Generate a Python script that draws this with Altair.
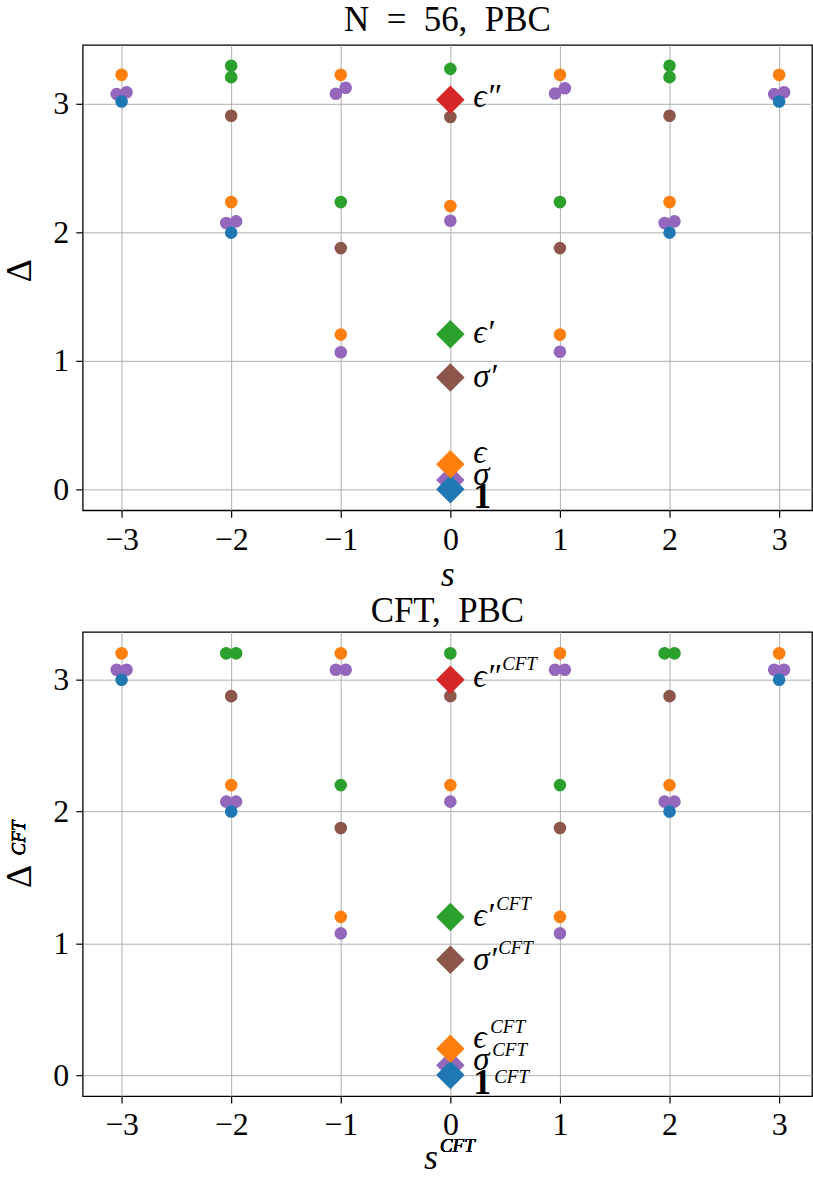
import altair as alt
import pandas as pd

SERIF = "Liberation Serif"

FAMILIES = ["1", "σ", "ϵ", "σ′", "ϵ′", "ϵ″"]
COLORS = ["#1f77b4", "#9467bd", "#ff7f0e", "#8c564b", "#2ca02c", "#d62728"]
DRAW_ORDER = ["σ", "1", "ϵ", "σ′", "ϵ′", "ϵ″"]

X_TICKS = [-3, -2, -1, 0, 1, 2, 3]
Y_TICKS = [0, 1, 2, 3]

TITLE_TOP = "N\u2002=\u200256,\u2002PBC"
TITLE_BOTTOM = "CFT,\u2002PBC"

# ---------------- N = 56 lattice spectrum ----------------
n56_one_s = [-3, -2, 2, 3]
n56_one_d = [3.018, 1.997, 1.997, 3.018]
n56_sig_s = [-3.045, -2.955, -2.045, -1.955, -1.045, -0.955, -1, 0, 1, 0.955, 1.045, 1.955, 2.045, 2.955, 3.045]
n56_sig_d = [3.075, 3.090, 2.072, 2.085, 3.078, 3.124, 1.067, 2.090, 1.070, 3.080, 3.121, 2.072, 2.085, 3.075, 3.090]
n56_eps_s = [-3, -2, -1, -1, 0, 1, 1, 2, 3]
n56_eps_d = [3.225, 2.235, 3.225, 1.204, 2.204, 3.225, 1.204, 2.235, 3.225]
n56_sigp_s = [-2, -1, 0, 1, 2]
n56_sigp_d = [2.907, 1.877, 2.897, 1.877, 2.907]
n56_epsp_s = [-2, -2, -1, 0, 1, 2, 2]
n56_epsp_d = [3.295, 3.207, 2.235, 3.271, 2.235, 3.295, 3.207]
n56_epspp_s = []
n56_epspp_d = []
n56_primary_d = [0.0, 0.072, 0.196, 0.871, 1.207, 3.031]

# ---------------- CFT spectrum ----------------
cft_one_s = [-3, -2, 2, 3]
cft_one_d = [3.0, 2.0, 2.0, 3.0]
cft_sig_s = [-3.045, -2.955, -2.045, -1.955, -1.045, -0.955, -1, 0, 1, 0.955, 1.045, 1.955, 2.045, 2.955, 3.045]
cft_sig_d = [3.075, 3.075, 2.075, 2.075, 3.075, 3.075, 1.075, 2.075, 1.075, 3.075, 3.075, 2.075, 2.075, 3.075, 3.075]
cft_eps_s = [-3, -2, -1, -1, 0, 1, 1, 2, 3]
cft_eps_d = [3.2, 2.2, 3.2, 1.2, 2.2, 3.2, 1.2, 2.2, 3.2]
cft_sigp_s = [-2, -1, 0, 1, 2]
cft_sigp_d = [2.875, 1.875, 2.875, 1.875, 2.875]
cft_epsp_s = [-2.045, -1.955, -1, 0, 1, 1.955, 2.045]
cft_epsp_d = [3.2, 3.2, 2.2, 3.2, 2.2, 3.2, 3.2]
cft_epspp_s = []
cft_epspp_d = []
cft_primary_d = [0.0, 0.075, 0.2, 0.875, 1.2, 3.0]

# label styling (offsets in px relative to the diamond)
LABEL_DY = {"1": 8, "σ": -5, "ϵ": -11, "σ′": 0, "ϵ′": -1, "ϵ″": -3}
SUP_DX = {"1": 44, "σ": 42, "ϵ": 40, "σ′": 48, "ϵ′": 46, "ϵ″": 52}
SUP_DY = {"1": 2, "σ": -15, "ϵ": -22, "σ′": -12, "ϵ′": -13, "ϵ″": -16}


def circles_frame(groups):
    rows = []
    for fam, ss, dd in groups:
        for s, d in zip(ss, dd):
            rows.append({"s": s, "delta": d, "family": fam, "z": DRAW_ORDER.index(fam)})
    return pd.DataFrame(rows)


def primary_frame(deltas):
    return pd.DataFrame({
        "s": [0] * len(FAMILIES),
        "delta": deltas,
        "family": FAMILIES,
        "z": [DRAW_ORDER.index(f) for f in FAMILIES],
    })


def panel(circ, prim, title, ydom, width, height, cft, ytitle_y, title_offset):
    xs = alt.Scale(domain=[-3.355, 3.3], nice=False, zero=False)
    ys = alt.Scale(domain=ydom, nice=False, zero=False)
    col = alt.Color("family:N", scale=alt.Scale(domain=FAMILIES, range=COLORS), legend=None)
    xaxis = alt.Axis(values=X_TICKS, format="d", title="s", titleFontStyle="italic",
                     titleX=(width / 2 - 17) if cft else width / 2,
                     titlePadding=0 if cft else 2)
    yaxis = alt.Axis(values=Y_TICKS, format="d", title="Δ", titleAngle=270, titleX=-44,
                     titleY=ytitle_y, titleBaseline="bottom", titleAlign="center")
    base_circ = alt.Chart(circ).mark_circle(size=160, opacity=1).encode(
        x=alt.X("s:Q", scale=xs, axis=xaxis),
        y=alt.Y("delta:Q", scale=ys, axis=yaxis),
        color=col,
        order=alt.Order("z:Q"),
    )
    diam = alt.Chart(prim).mark_point(shape="diamond", filled=True, size=820, opacity=1).encode(
        x=alt.X("s:Q", scale=xs),
        y=alt.Y("delta:Q", scale=ys),
        color=col,
        order=alt.Order("z:Q"),
    )
    layers = [base_circ, diam]
    for fam in FAMILIES:
        bold = fam == "1"
        layers.append(
            alt.Chart(prim).transform_filter(alt.datum.family == fam).mark_text(
                align="left", baseline="middle", dx=23, dy=LABEL_DY[fam],
                font=SERIF, fontSize=36 if bold else 33,
                fontStyle="normal" if bold else "italic",
                fontWeight="bold" if bold else "normal", color="black",
            ).encode(x=alt.X("s:Q", scale=xs), y=alt.Y("delta:Q", scale=ys), text="family:N")
        )
        if cft:
            layers.append(
                alt.Chart(prim).transform_filter(alt.datum.family == fam).mark_text(
                    align="left", baseline="middle", dx=SUP_DX[fam], dy=SUP_DY[fam],
                    font=SERIF, fontSize=19, fontStyle="italic", color="black",
                ).encode(x=alt.X("s:Q", scale=xs), y=alt.Y("delta:Q", scale=ys), text=alt.value("CFT"))
            )
    if cft:
        # superscripts of the axis titles
        layers.append(
            alt.Chart(prim).mark_text(font=SERIF, fontSize=19, fontStyle="italic", color="black",
                                      align="center", baseline="middle").encode(
                x=alt.value(width / 2 + 10), y=alt.value(height + 50), text=alt.value("CFT"))
        )
        layers.append(
            alt.Chart(prim).mark_text(font=SERIF, fontSize=19, fontStyle="italic", color="black",
                                      align="center", baseline="middle", angle=270).encode(
                x=alt.value(-64), y=alt.value(ytitle_y - 38), text=alt.value("CFT"))
        )
    return alt.layer(*layers).properties(
        width=width, height=height,
        title=alt.TitleParams(title, font=SERIF, fontSize=35, fontWeight="normal",
                              anchor="middle", offset=title_offset, color="black"),
    )


n56_circ = circles_frame([
    ("σ", n56_sig_s, n56_sig_d), ("1", n56_one_s, n56_one_d), ("ϵ", n56_eps_s, n56_eps_d),
    ("σ′", n56_sigp_s, n56_sigp_d), ("ϵ′", n56_epsp_s, n56_epsp_d), ("ϵ″", n56_epspp_s, n56_epspp_d),
])
cft_circ = circles_frame([
    ("σ", cft_sig_s, cft_sig_d), ("1", cft_one_s, cft_one_d), ("ϵ", cft_eps_s, cft_eps_d),
    ("σ′", cft_sigp_s, cft_sigp_d), ("ϵ′", cft_epsp_s, cft_epsp_d), ("ϵ″", cft_epspp_s, cft_epspp_d),
])

top = panel(n56_circ, primary_frame(n56_primary_d), TITLE_TOP, [-0.163, 3.457], 732, 467, False, 226, 7)
bottom = panel(cft_circ, primary_frame(cft_primary_d), TITLE_BOTTOM, [-0.16, 3.363], 732, 466, True, 245, 3)

chart = alt.vconcat(top, bottom, spacing=0).properties(
    padding={"left": 1, "right": 0, "top": 0, "bottom": 0},
    background="white",
).configure_view(
    stroke="black", strokeWidth=1.3,
).configure_axis(
    labelFont=SERIF, labelFontSize=32, labelColor="black", labelPadding=7,
    titleFont=SERIF, titleFontSize=36, titleFontWeight="normal", titleColor="black",
    tickColor="black", tickSize=7, tickWidth=1.2, domain=False,
    grid=True, gridColor="#b0b0b0", gridWidth=1,
)

chart.save("out.html", embed_options={"renderer": "svg", "actions": False})
